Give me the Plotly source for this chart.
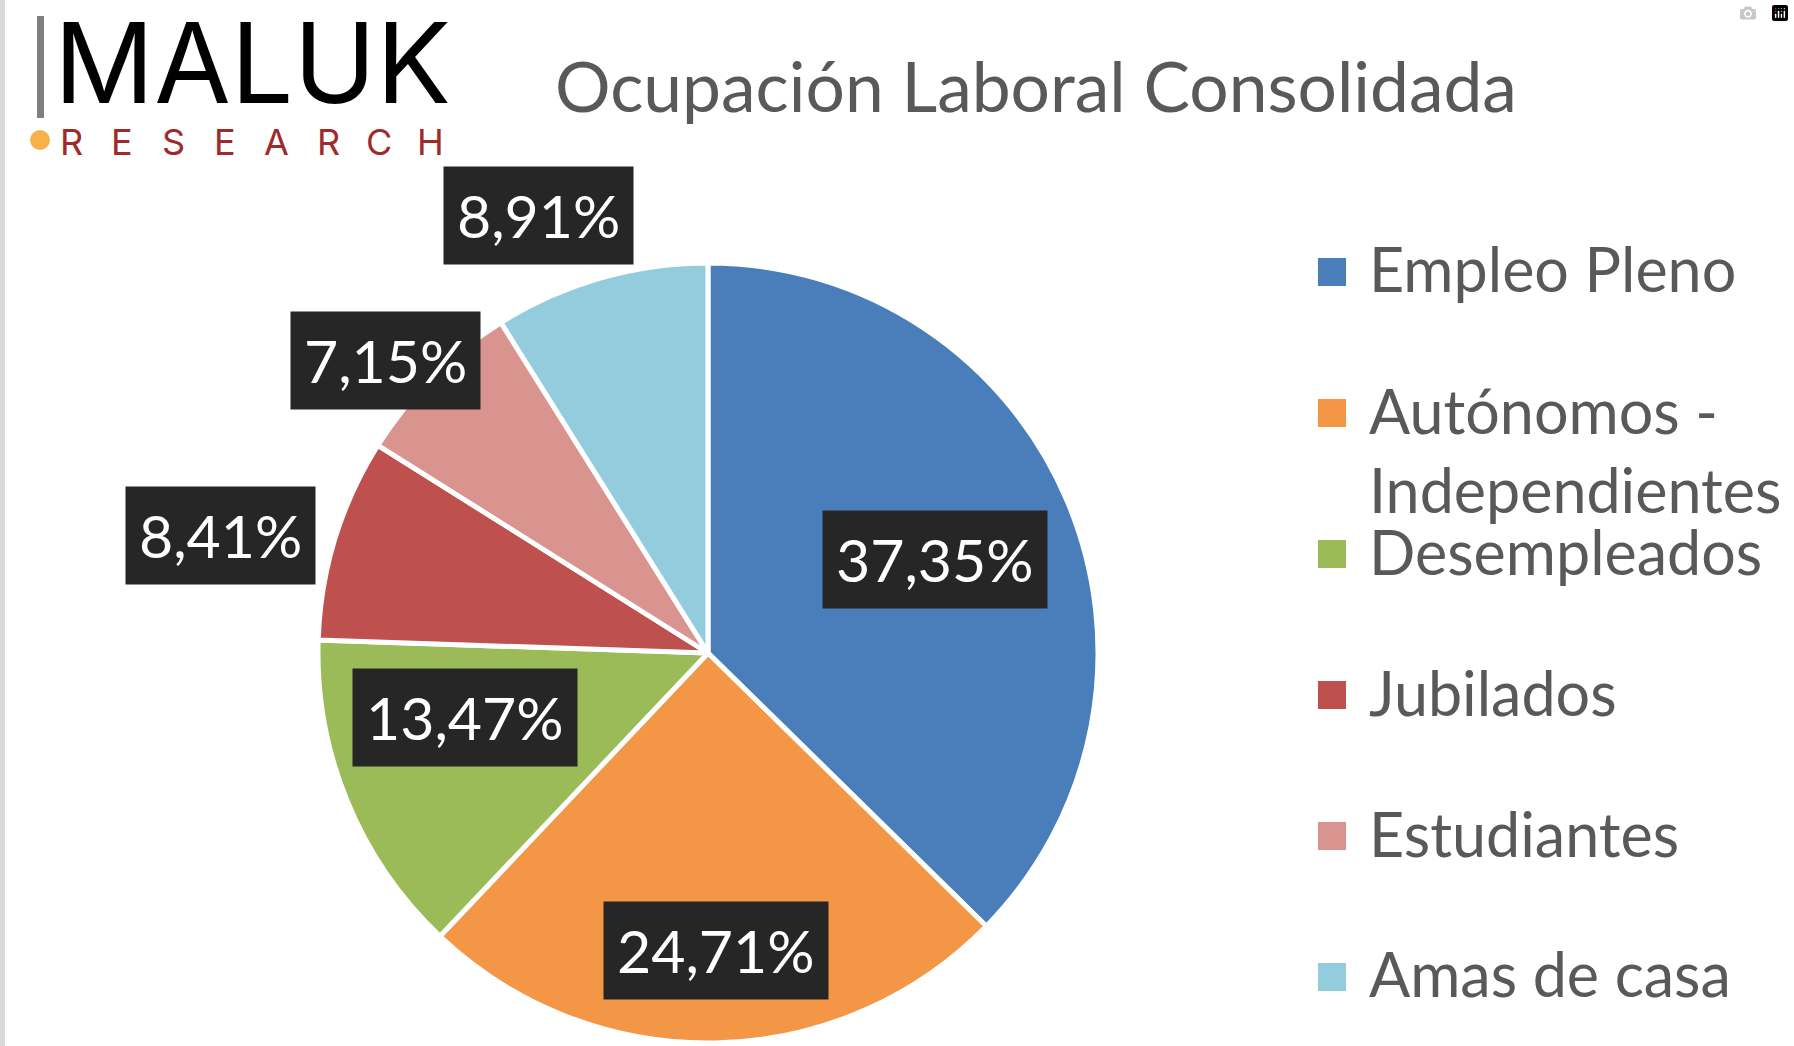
import math
import plotly.graph_objects as go

W, H = 1794, 1046

# ---- data ----
categories = ["Empleo Pleno", "Autónomos - Independientes", "Desempleados",
              "Jubilados", "Estudiantes", "Amas de casa"]
values = [37.35, 24.71, 13.47, 8.41, 7.15, 8.91]
colors = ["#4A7EBB", "#F39646", "#9BBB59", "#BE504D", "#D9948F", "#93CDDD"]

title_text = "Ocupación Laboral Consolidada"
logo_word = "MALUK"
logo_sub = "RESEARCH"

# ---- layout constants (pixels) ----
CX, CY, R = 708, 653, 390
# radial factor and pixel nudges for the data labels (best-fit like placement)
label_k = [0.632, 0.763, 0.645, 1.287, 1.115, 1.202]
label_shift = [(0, -2), (2, 0), (-10, 31), (-8, -30), (-15, -15), (-40, -13)]


def px(x):
    return x / W


def py(y):
    return 1 - y / H


fig = go.Figure()
fig.add_trace(go.Pie(
    values=values, labels=categories, sort=False, direction="clockwise",
    rotation=0, textinfo="none", showlegend=False, hoverinfo="label+percent",
    marker=dict(colors=colors, line=dict(color="white", width=5)),
    domain=dict(x=[px(CX - R), px(CX + R)], y=[py(CY + R), py(CY - R)]),
))

annotations = []
shapes = []

# data labels
total = sum(values)
cum = 0.0
for i, v in enumerate(values):
    mid = (cum + v / 2) / total * 2 * math.pi
    cum += v
    lx = CX + label_k[i] * R * math.sin(mid)
    ly = CY - label_k[i] * R * math.cos(mid)
    txt = f"{v:.2f}".replace(".", ",") + "%"
    annotations.append(dict(
        x=px(lx), y=py(ly), xref="paper", yref="paper", text=txt,
        showarrow=False, xanchor="center", yanchor="middle",
        xshift=label_shift[i][0], yshift=label_shift[i][1],
        font=dict(family="Lato", size=59, color="white"),
        bgcolor="#262626", borderpad=13,
    ))

# title
annotations.append(dict(
    x=px(553), y=py(85), xref="paper", yref="paper", text=title_text,
    showarrow=False, xanchor="left", yanchor="middle",
    font=dict(family="Lato", size=69.5, color="#595959"),
))

# legend (manual, to reproduce spacing)
LEG_X_SQ, LEG_SQ, LEG_X_TXT = 1318, 28, 1367
LEG_Y0, LEG_STEP, LEG_FS = 272, 141, 61
for i, cat in enumerate(categories):
    yc = LEG_Y0 + i * LEG_STEP
    shapes.append(dict(
        type="rect", xref="paper", yref="paper",
        x0=px(LEG_X_SQ), x1=px(LEG_X_SQ + LEG_SQ),
        y0=py(yc + LEG_SQ / 2), y1=py(yc - LEG_SQ / 2),
        fillcolor=colors[i], line=dict(width=0),
    ))
    lines = cat.replace(" - ", " -<br>")
    nlines = lines.count("<br>") + 1
    ytxt = yc - 3 + (nlines - 1) * 0.5 * 1.3 * LEG_FS
    annotations.append(dict(
        x=px(LEG_X_TXT), y=py(ytxt), xref="paper", yref="paper", text=lines,
        showarrow=False, xanchor="left", yanchor="middle", align="left",
        font=dict(family="Lato", size=LEG_FS, color="#595959"),
    ))

# logo
annotations.append(dict(
    x=px(52), y=py(62), xref="paper", yref="paper", text=logo_word,
    showarrow=False, xanchor="left", yanchor="middle",
    font=dict(family="Inter", size=111, color="#000000"),
))
for j, ch in enumerate(logo_sub):
    annotations.append(dict(
        x=px(71 + j * 51.4), y=py(142), xref="paper", yref="paper", text=ch,
        showarrow=False, xanchor="center", yanchor="middle",
        font=dict(family="Inter", size=36, color="#9E2A2B"),
    ))
shapes.append(dict(type="rect", xref="paper", yref="paper",
                   x0=px(37), x1=px(44), y0=py(118), y1=py(16),
                   fillcolor="#7F7F7F", line=dict(width=0)))
shapes.append(dict(type="circle", xref="paper", yref="paper",
                   x0=px(30), x1=px(50), y0=py(150), y1=py(130),
                   fillcolor="#F8B14A", line=dict(width=0)))
# left frame edge
shapes.append(dict(type="rect", xref="paper", yref="paper",
                   x0=0, x1=px(5), y0=0, y1=1,
                   fillcolor="#D9D9D9", line=dict(width=0)))

fig.update_layout(
    width=W, height=H, margin=dict(l=0, r=0, t=0, b=0),
    paper_bgcolor="white", plot_bgcolor="white",
    annotations=annotations, shapes=shapes,
)

fig.write_html(
    "out.html",
    post_script="document.body.style.margin='0';document.body.style.overflow='hidden';",
)
